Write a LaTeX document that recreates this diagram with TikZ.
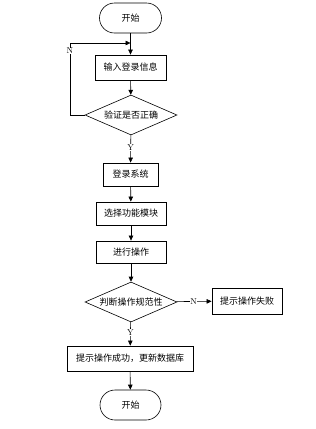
\documentclass[tikz,border=0pt]{standalone}
\usepackage{fontspec}
\newfontfamily\cjk{Noto Sans CJK SC}
\usetikzlibrary{shapes.geometric,arrows.meta}
\begin{document}
\begin{tikzpicture}[x=1pt,y=-1pt,font=\cjk\fontsize{9}{10}\selectfont,
  box/.style={draw,line width=.8pt,inner sep=0pt,minimum height=23pt},
  term/.style={draw,line width=.6pt,rounded corners=15pt,minimum width=62pt,minimum height=30pt,inner sep=0pt},
  chk/.style={draw,line width=.6pt,diamond,aspect=2.3,minimum width=92pt,minimum height=40pt,inner sep=0pt},
  arr/.style={-{Triangle[length=5pt,width=4.5pt]},line width=.6pt},
  yn/.style={fill=white,inner sep=.5pt,font=\rmfamily\fontsize{8.5}{9}\selectfont}]
\useasboundingbox (0,0) rectangle (316,429);
\node[term] (start) at (130.5,18) {开始};
\node[box,minimum width=71pt,minimum height=25pt] (input) at (130.5,67.5) {输入登录信息};
\node[chk] (login) at (131,115) {验证是否正确};
\node[box,minimum width=55pt] (sys) at (130.5,174.5) {登录系统};
\node[box,minimum width=70pt] (sel) at (131,213.5) {选择功能模块};
\node[box,minimum width=70pt,minimum height=22pt] (op) at (131,252) {进行操作};
\node[chk] (rule) at (131,302) {判断操作规范性};
\node[box,minimum width=70pt,minimum height=26pt] (fail) at (247,301) {提示操作失败};
\node[box,minimum width=126pt,minimum height=25pt] (ok) at (130,358.5) {提示操作成功，更新数据库};
\node[term,minimum width=61pt] (end) at (130.5,405) {开始};
% back loop when login fails
\coordinate (merge) at (130.5,43);
\coordinate (loopc) at (70,43);
\draw[arr] (start) -- (input);
\draw[arr] (input) -- (login);
\draw[arr] (login.west) -| (loopc) -- (merge);
\node[yn] (nlogin) at (70,51) {N};
\draw[arr] (login) -- (sys) node[yn,pos=.46] {Y};
\draw[arr] (sys) -- (sel);
\draw[arr] (sel) -- (op);
\draw[arr] (op) -- (rule);
\draw[arr] (rule) -- (fail) node[yn,pos=.49] {N};
\draw[arr] (rule) -- (ok) node[yn,pos=.45] {Y};
\draw[arr] (ok) -- (end);
\end{tikzpicture}
\end{document}
